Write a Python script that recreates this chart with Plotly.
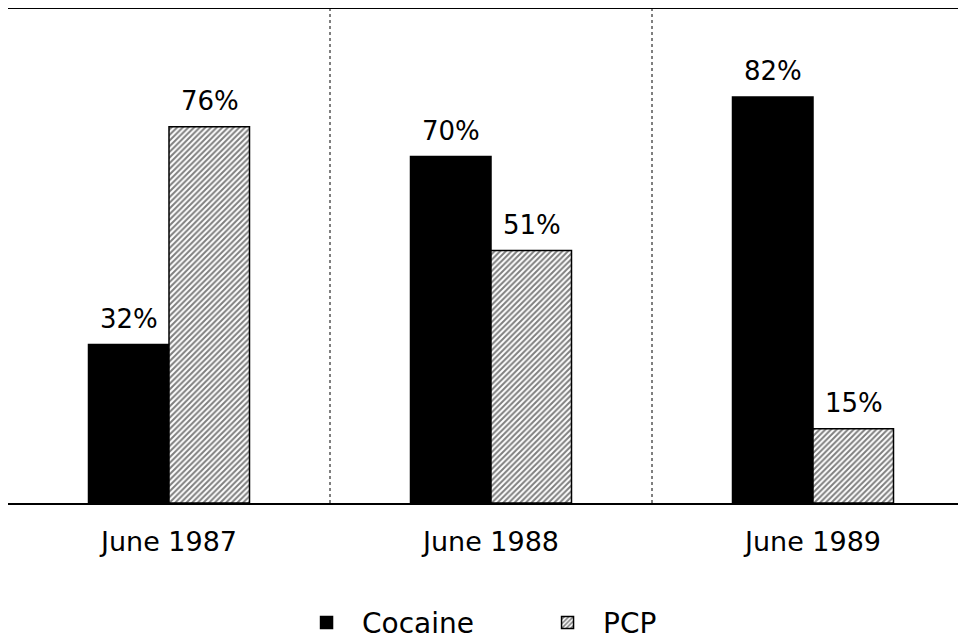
import plotly.graph_objects as go

categories = ["June 1987", "June 1988", "June 1989"]
cocaine = [32, 70, 82]
pcp = [76, 51, 15]
series_names = ["Cocaine", "PCP"]

FONT = "DejaVu Sans, Liberation Sans, Arial, sans-serif"

fig = go.Figure()
fig.add_trace(go.Bar(
    x=categories, y=cocaine, name=series_names[0],
    marker=dict(color="black", line=dict(color="black", width=1.5)),
))
fig.add_trace(go.Bar(
    x=categories, y=pcp, name=series_names[1],
    marker=dict(color="white", line=dict(color="black", width=1.5),
                pattern=dict(shape="/", fgcolor="black", bgcolor="white",
                             size=4, solidity=0.5)),
))

annotations = []
for i, c in enumerate(categories):
    for vals, shift in ((cocaine, -40), (pcp, 41)):
        annotations.append(dict(
            x=c, y=vals[i], xref="x", yref="y", text=f"{vals[i]}%",
            showarrow=False, xshift=shift, yshift=9, yanchor="bottom",
            font=dict(family=FONT, size=26, color="black"),
        ))

shapes = []
for xb in (0.5, 1.5):
    shapes.append(dict(type="line", xref="x", yref="paper", x0=xb, x1=xb,
                       y0=0, y1=1, line=dict(color="black", width=1, dash="dot")))
shapes.append(dict(type="line", xref="paper", yref="paper", x0=0, x1=1,
                   y0=1, y1=1, line=dict(color="black", width=2)))

fig.update_layout(
    width=966, height=644,
    margin=dict(l=0, r=0, t=0, b=149, autoexpand=False),
    paper_bgcolor="white", plot_bgcolor="white",
    barmode="group", bargap=0.5, bargroupgap=0,
    font=dict(family=FONT, size=26, color="black"),
    showlegend=True,
    legend=dict(orientation="h", x=0.293, xanchor="left", y=-0.242, yanchor="middle",
                font=dict(family=FONT, size=28), itemwidth=61,
                entrywidth=165, entrywidthmode="pixels",
                traceorder="normal"),
    annotations=annotations,
    shapes=shapes,
)
fig.update_xaxes(range=[-0.5, 2.5], showline=True, linecolor="black", linewidth=2,
                 showgrid=False, ticks="", ticklabelstandoff=14,
                 tickfont=dict(family=FONT, size=27, color="black"))
fig.update_yaxes(range=[0, 100], showline=True, linecolor="black", linewidth=2,
                 showgrid=False, showticklabels=False, ticks="", zeroline=False)

fig.write_html("out.html")
